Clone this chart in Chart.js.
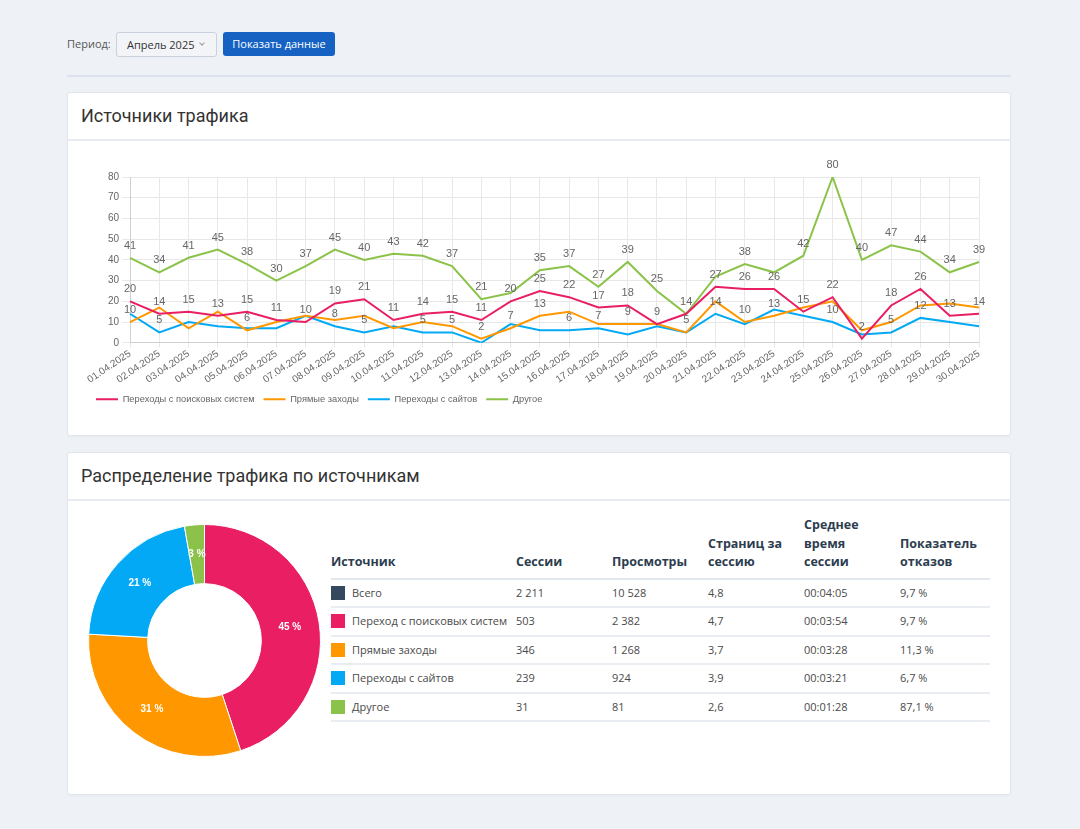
<!DOCTYPE html>
<html lang="ru">
<head>
<meta charset="utf-8">
<title>Источники трафика</title>
<script src="https://cdn.jsdelivr.net/npm/chart.js@4.4.1/dist/chart.umd.min.js"></script>
<style>
  html, body { margin: 0; padding: 0; }
  body {
    width: 1080px; height: 829px; position: relative; overflow: hidden;
    background: #eef2f7; font-family: "Open Sans", "Noto Sans", sans-serif; color: #333;
  }
  .lbl { position: absolute; left: 67px; top: 35px; font-size: 11px; color: #555; line-height: 18px; }
  .sel {
    position: absolute; left: 116px; top: 32px; width: 99px; height: 23px;
    border: 1px solid #c9d1dc; border-radius: 3px; background: #f2f4f7;
    font-size: 11px; line-height: 23px; color: #333;
  }
  .sel span { position: absolute; left: 10px; top: 0; }
  .sel i {
    position: absolute; left: 83px; top: 8px; width: 3px; height: 3px;
    border-right: 1px solid #999; border-bottom: 1px solid #999; transform: rotate(45deg);
  }
  .btn {
    position: absolute; left: 223px; top: 32px; width: 112px; height: 24px;
    background: #1562c3; border-radius: 3px; color: #fff; font-size: 11px;
    line-height: 24px; text-align: center;
  }
  .hr { position: absolute; left: 67px; top: 75px; width: 944px; height: 2px; background: #dce3ed; }
  .card {
    position: absolute; left: 67px; width: 942px; background: #fff;
    border: 1px solid #e1e6ed; border-radius: 3px; box-shadow: 0 1px 2px rgba(0,0,0,0.03);
  }
  .card h2 {
    margin: 0; height: 46px; line-height: 46px; padding-left: 13px;
    font-family: Roboto, sans-serif; font-weight: 400; font-size: 18px; color: #333;
    border-bottom: 2px solid #e8ebf0;
  }
  #lineBox { position: absolute; left: 16px; top: 62px; width: 905px; height: 259px; }
  #pieBox { position: absolute; left: 20px; top: 71px; width: 233px; height: 233px; }
  table {
    position: absolute; left: 263px; top: 63px; width: 659px;
    border-collapse: collapse; table-layout: fixed; font-size: 11px;
  }
  th {
    text-align: left; vertical-align: bottom; font-weight: 700; font-size: 12.5px;
    color: #2c3d4f; line-height: 18.5px; padding: 0 8px 6px 0;
    border-bottom: 2px solid #e3e8ef;
  }
  td {
    height: 26.5px; padding: 0; color: #4a4a4a; line-height: 26.5px; white-space: nowrap;
    border-bottom: 2px solid #e9edf2; overflow: hidden;
  }
  td .sq { display: inline-block; width: 14px; height: 14px; vertical-align: -3px; margin-right: 7px; }
</style>
</head>
<body>

<div class="lbl">Период:</div>
<div class="sel"><span>Апрель 2025</span><i></i></div>
<div class="btn">Показать данные</div>
<div class="hr"></div>

<div class="card" style="top:92px; height:342px;">
  <h2>Источники трафика</h2>
  <div id="lineBox"><canvas id="trafficChart"></canvas></div>
</div>

<div class="card" style="top:452px; height:341px;">
  <h2>Распределение трафика по источникам</h2>
  <div id="pieBox"><canvas id="shareChart"></canvas></div>
  <table id="sourceTable"></table>
</div>

<script>
const days = ['01.04.2025', '02.04.2025', '03.04.2025', '04.04.2025', '05.04.2025', '06.04.2025',
  '07.04.2025', '08.04.2025', '09.04.2025', '10.04.2025', '11.04.2025', '12.04.2025',
  '13.04.2025', '14.04.2025', '15.04.2025', '16.04.2025', '17.04.2025', '18.04.2025',
  '19.04.2025', '20.04.2025', '21.04.2025', '22.04.2025', '23.04.2025', '24.04.2025',
  '25.04.2025', '26.04.2025', '27.04.2025', '28.04.2025', '29.04.2025', '30.04.2025'];

const searchVisits = [20, 14, 15, 13, 15, 11, 10, 19, 21, 11, 14, 15, 11, 20, 25, 22, 17, 18, 9, 14, 27, 26, 26, 15, 22, 2, 18, 26, 13, 14];
const directVisits = [10, 17, 7, 15, 6, 10, 13, 11, 13, 7, 10, 8, 2, 7, 13, 15, 9, 9, 9, 5, 20, 10, 13, 17, 20, 6, 10, 18, 19, 17];
const referralVisits = [14, 5, 10, 8, 7, 7, 13, 8, 5, 8, 5, 5, 0, 9, 6, 6, 7, 4, 8, 5, 14, 9, 16, 13, 10, 4, 5, 12, 10, 8];
const otherVisits = [41, 34, 41, 45, 38, 30, 37, 45, 40, 43, 42, 37, 21, 24, 35, 37, 27, 39, 25, 14, 32, 38, 34, 42, 80, 40, 47, 44, 34, 39];

const seriesNames = ['Переходы с поисковых систем', 'Прямые заходы', 'Переходы с сайтов', 'Другое'];
const seriesColors = ['#e91e63', '#ff9800', '#03a9f4', '#8bc34a'];

const yTicks = [0, 10, 20, 30, 40, 50, 60, 70, 80];

// doughnut + table
const pieLabels = ['Переход с поисковых систем', 'Прямые заходы', 'Переходы с сайтов', 'Другое'];
const pieSessions = [503, 346, 239, 31];

const tableHead = ['Источник', 'Сессии', 'Просмотры', 'Страниц за сессию', 'Среднее время сессии', 'Показатель отказов'];
const tableSources = ['Всего', 'Переход с поисковых систем', 'Прямые заходы', 'Переходы с сайтов', 'Другое'];
const tableColors = ['#34495e', '#e91e63', '#ff9800', '#03a9f4', '#8bc34a'];
const tableSessions = ['2 211', '503', '346', '239', '31'];
const tableViews = ['10 528', '2 382', '1 268', '924', '81'];
const tablePages = ['4,8', '4,7', '3,7', '3,9', '2,6'];
const tableTime = ['00:04:05', '00:03:54', '00:03:28', '00:03:21', '00:01:28'];
const tableBounce = ['9,7 %', '9,7 %', '11,3 %', '6,7 %', '87,1 %'];

Chart.defaults.font.family = '"Liberation Sans", Arial, sans-serif';
Chart.defaults.color = '#666';

// value labels above the points, skipped when they would overlap one already drawn
const pointLabels = {
  id: 'pointLabels',
  afterDatasetsDraw(chart) {
    const ctx = chart.ctx;
    const placed = [];
    ctx.save();
    ctx.font = '11px "Liberation Sans", Arial, sans-serif';
    ctx.fillStyle = '#666';
    ctx.textAlign = 'center';
    ctx.textBaseline = 'middle';
    chart.data.datasets.forEach((ds, i) => {
      chart.getDatasetMeta(i).data.forEach((pt, j) => {
        const text = String(ds.data[j]);
        const w = ctx.measureText(text).width + 8;
        const h = 17.5;
        const cx = pt.x, cy = pt.y - 12;
        const box = { l: cx - w / 2, r: cx + w / 2, t: cy - h / 2, b: cy + h / 2 };
        if (placed.some(p => box.l < p.r && box.r > p.l && box.t < p.b && box.b > p.t)) return;
        placed.push(box);
        ctx.fillText(text, cx, cy);
      });
    });
    ctx.restore();
  }
};

const lineData = [searchVisits, directVisits, referralVisits, otherVisits];

new Chart(document.getElementById('trafficChart'), {
  type: 'line',
  data: {
    labels: days,
    datasets: lineData.map((values, i) => ({
      label: seriesNames[i],
      data: values,
      borderColor: seriesColors[i],
      backgroundColor: seriesColors[i],
      borderWidth: 2,
      pointRadius: 0,
      pointHoverRadius: 0,
      tension: 0,
      fill: false
    }))
  },
  options: {
    responsive: true,
    maintainAspectRatio: false,
    animation: false,
    layout: { padding: { top: 22, right: 10, left: 3 } },
    plugins: {
      tooltip: { enabled: false },
      legend: {
        position: 'bottom',
        align: 'start',
        labels: {
          boxWidth: 22,
          boxHeight: 2,
          padding: 9,
          font: { size: 9.3 },
          color: '#666',
          generateLabels(chart) {
            return Chart.defaults.plugins.legend.labels.generateLabels(chart)
              .map(item => Object.assign(item, { lineWidth: 0, fillStyle: item.strokeStyle }));
          }
        }
      }
    },
    scales: {
      x: {
        grid: { color: '#e8e8e8', tickLength: 5 },
        ticks: { font: { size: 10 }, color: '#666', padding: 0, minRotation: 34, maxRotation: 34, autoSkip: false }
      },
      y: {
        min: 0,
        max: 80,
        grid: { color: '#e8e8e8' },
        afterBuildTicks(axis) { axis.ticks = yTicks.map(v => ({ value: v })); },
        afterFit(axis) { axis.width = 43; },
        ticks: { font: { size: 10 }, color: '#666' }
      }
    }
  },
  plugins: [pointLabels]
});

// percent labels on the slices
const sliceLabels = {
  id: 'sliceLabels',
  afterDatasetsDraw(chart) {
    const ctx = chart.ctx;
    const values = chart.data.datasets[0].data;
    const total = values.reduce((a, b) => a + b, 0);
    ctx.save();
    ctx.font = 'bold 10px "Liberation Sans", Arial, sans-serif';
    ctx.fillStyle = '#fff';
    ctx.textAlign = 'center';
    ctx.textBaseline = 'middle';
    chart.getDatasetMeta(0).data.forEach((arc, i) => {
      const pos = arc.tooltipPosition();
      ctx.fillText(Math.round(values[i] / total * 100) + ' %', pos.x, pos.y);
    });
    ctx.restore();
  }
};

new Chart(document.getElementById('shareChart'), {
  type: 'doughnut',
  data: {
    labels: pieLabels,
    datasets: [{
      data: pieSessions,
      backgroundColor: seriesColors,
      borderColor: '#fff',
      borderWidth: 1
    }]
  },
  options: {
    responsive: true,
    maintainAspectRatio: false,
    animation: false,
    cutout: '49%',
    plugins: { legend: { display: false }, tooltip: { enabled: false } }
  },
  plugins: [sliceLabels]
});

// table
const colWidths = [185, 96, 96, 96, 96, 90];
let html = '<colgroup>' + colWidths.map(w => `<col style="width:${w}px">`).join('') + '</colgroup>';
html += '<thead><tr>' + tableHead.map(t => `<th>${t}</th>`).join('') + '</tr></thead><tbody>';
tableSources.forEach((name, i) => {
  html += `<tr>
      <td><span class="sq" style="background:${tableColors[i]}"></span>${name}</td>
      <td>${tableSessions[i]}</td>
      <td>${tableViews[i]}</td>
      <td>${tablePages[i]}</td>
      <td>${tableTime[i]}</td>
      <td>${tableBounce[i]}</td>
    </tr>`;
});
html += '</tbody>';
document.getElementById('sourceTable').innerHTML = html;
</script>
</body>
</html>
